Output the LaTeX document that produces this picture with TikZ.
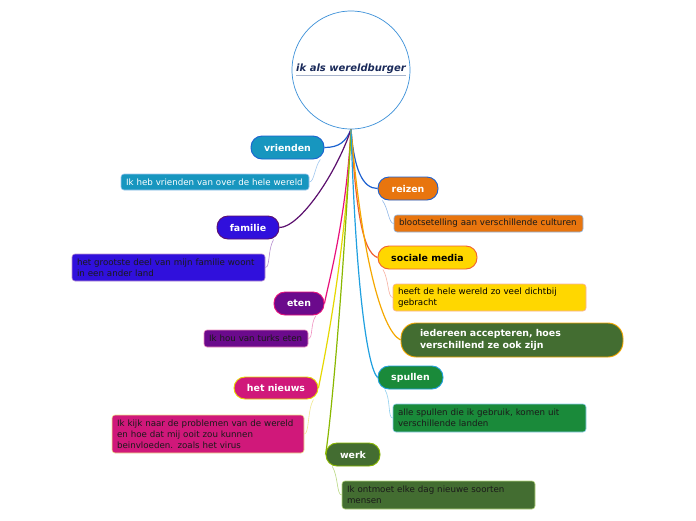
\documentclass[tikz,border=0pt]{standalone}
\usepackage{fontspec}
\setmainfont{DejaVu Sans}
\usetikzlibrary{calc}
\definecolor{titlec}{HTML}{1A2A5A}
\definecolor{ulc}{HTML}{A8B4CC}
\definecolor{hubline}{HTML}{3A8FD8}
\definecolor{vrfill}{HTML}{1796BF}
\definecolor{vrline}{HTML}{1A62D0}
\definecolor{vrnline}{HTML}{A0C8F0}
\definecolor{fafill}{HTML}{3010DC}
\definecolor{faline}{HTML}{5B0F6E}
\definecolor{fanline}{HTML}{B890D0}
\definecolor{etfill}{HTML}{6B0A8C}
\definecolor{etline}{HTML}{E8107A}
\definecolor{etnline}{HTML}{F090C0}
\definecolor{nifill}{HTML}{D0187A}
\definecolor{niline}{HTML}{E6D800}
\definecolor{ninline}{HTML}{F0E890}
\definecolor{wefill}{HTML}{436D31}
\definecolor{weline}{HTML}{8AB800}
\definecolor{wenline}{HTML}{B8D880}
\definecolor{refill}{HTML}{E8750E}
\definecolor{reline}{HTML}{1A5FD0}
\definecolor{renline}{HTML}{90B8E8}
\definecolor{sofill}{HTML}{FFD700}
\definecolor{soline}{HTML}{F06030}
\definecolor{sonline}{HTML}{F8B0A0}
\definecolor{ieline}{HTML}{F5A800}
\definecolor{spfill}{HTML}{1A8A3A}
\definecolor{spline}{HTML}{20A0E0}
\definecolor{spnline}{HTML}{90D0F0}
\definecolor{notetext}{HTML}{1A1A1A}
\tikzset{
  mainbox/.style={draw, rounded corners=11pt, line width=0.9pt, minimum height=23pt,
    font=\fontsize{9.4}{11}\selectfont\bfseries, text=white, inner sep=0pt},
  notebox/.style={draw, rounded corners=3pt, line width=0.6pt, align=left,
    font=\fontsize{8.7}{11}\selectfont, text=notetext, inner xsep=5pt, inner ysep=0pt},
  branch/.style={line width=1.2pt},
  twig/.style={line width=0.6pt}
}
\begin{document}
\begin{tikzpicture}[x=1pt,y=-1pt]
\useasboundingbox[fill=white] (0,0) rectangle (696,520);
% hub
\node[circle, draw=hubline, line width=0.7pt, minimum size=118pt, inner sep=0pt,
  font=\fontsize{10}{12}\selectfont\bfseries\itshape, text=titlec] (hub) at (351,70)
  {{\color{ulc}\underline{\textcolor{titlec}{ik als wereldburger}}}};
% left main nodes
\node[mainbox, fill=vrfill, draw=vrline, minimum width=73pt] (vrienden) at (287.5,147.5) {vrienden};
\node[mainbox, fill=fafill, draw=faline, minimum width=62pt] (familie) at (248,227.5) {familie};
\node[mainbox, fill=etfill, draw=etline, minimum width=50pt] (eten) at (299,303.5) {eten};
\node[mainbox, fill=nifill, draw=niline, minimum width=84pt, minimum height=22pt] (nieuws) at (276,388) {het nieuws};
\node[mainbox, fill=wefill, draw=weline, minimum width=54pt] (werk) at (353,454.5) {werk};
% right main nodes
\node[mainbox, fill=refill, draw=reline, minimum width=60pt] (reizen) at (408,188.5) {reizen};
\node[mainbox, fill=sofill, draw=soline, text=black, minimum width=99pt] (sociale) at (427.5,257.5) {sociale media};
\node[mainbox, fill=wefill, draw=ieline, minimum height=34pt, rounded corners=15pt, align=left,
  text width=184pt, inner xsep=19pt, font=\fontsize{9.4}{12.5}\selectfont\bfseries] (iedereen) at (512,340)
  {iedereen accepteren, hoes\\verschillend ze ook zijn};
\node[mainbox, fill=spfill, draw=spline, minimum width=65pt] (spullen) at (410.5,377.5) {spullen};
% notes
\node[notebox, fill=vrfill, draw=vrnline, text=white, text width=178pt, minimum height=16pt] (vnote) at (215,182)
  {Ik heb vrienden van over de hele wereld};
\node[notebox, fill=fafill, draw=fanline, text width=183pt, minimum height=27pt] (fnote) at (168.5,267.5)
  {het grootste deel van mijn familie woont\\in een ander land};
\node[notebox, fill=etfill, draw=etnline, text width=94pt, minimum height=17pt] (enote) at (256,338.5)
  {Ik hou van turks eten};
\node[notebox, fill=nifill, draw=ninline, text width=182pt, minimum height=38pt] (nnote) at (208,434)
  {Ik kijk naar de problemen van de wereld\\en hoe dat mij ooit zou kunnen\\beinvloeden. zoals het virus};
\node[notebox, fill=wefill, draw=wenline, text width=183pt, minimum height=28pt] (wnote) at (438.5,495)
  {Ik ontmoet elke dag nieuwe soorten\\mensen};
\node[notebox, fill=refill, draw=renline, text width=179pt, minimum height=17pt] (rnote) at (488.5,223.5)
  {blootsetelling aan verschillende culturen};
\node[notebox, fill=sofill, draw=sonline, text=black, text width=183pt, minimum height=27pt] (snote) at (489.5,297.5)
  {heeft de hele wereld zo veel dichtbij\\gebracht};
\node[notebox, fill=spfill, draw=spnline, text width=183pt, minimum height=28pt] (pnote) at (489.5,418)
  {alle spullen die ik gebruik, komen uit\\verschillende landen};
% branches
\draw[branch, vrline] (hub.south) .. controls +(-5,12) and +(15,0) .. (vrienden.east);
\draw[branch, faline] (hub.south) .. controls +(-15,45) and +(20,0) .. (familie.east);
\draw[branch, etline] (hub.south) .. controls +(-5,90) and +(5,-25) .. (eten.east);
\draw[branch, niline] (hub.south) .. controls +(-5,120) and +(8,-40) .. (nieuws.east);
\draw[branch, weline] (hub.south) .. controls +(-8,160) and +(5,-30) .. (werk.west);
\draw[branch, reline] (hub.south) .. controls +(3,40) and +(-15,0) .. (reizen.west);
\draw[branch, soline] (hub.south) .. controls +(5,80) and +(-15,-5) .. (sociale.west);
\draw[branch, ieline] (hub.south) .. controls +(10,120) and +(-20,-10) .. (iedereen.west);
\draw[branch, spline] (hub.south) .. controls +(5,160) and +(-10,-10) .. (spullen.west);
% twigs
\draw[twig, vrnline] (vrienden.-20) .. controls +(-6,8) and +(5,0) .. (vnote.east);
\draw[twig, fanline] (familie.-25) .. controls +(-6,10) and +(5,0) .. (fnote.east);
\draw[twig, etnline] (eten.-35) .. controls +(-6,8) and +(5,0) .. (enote.east);
\draw[twig, ninline] (nieuws.-17) .. controls +(-6,10) and +(5,0) .. (nnote.east);
\draw[twig, wenline] (werk.210) .. controls +(6,10) and +(-5,0) .. (wnote.west);
\draw[twig, renline] (reizen.205) .. controls +(6,8) and +(-5,0) .. (rnote.west);
\draw[twig, sonline] (sociale.195) .. controls +(6,10) and +(-5,0) .. (snote.west);
\draw[twig, spnline] (spullen.205) .. controls +(6,10) and +(-5,0) .. (pnote.west);
\end{tikzpicture}
\end{document}
